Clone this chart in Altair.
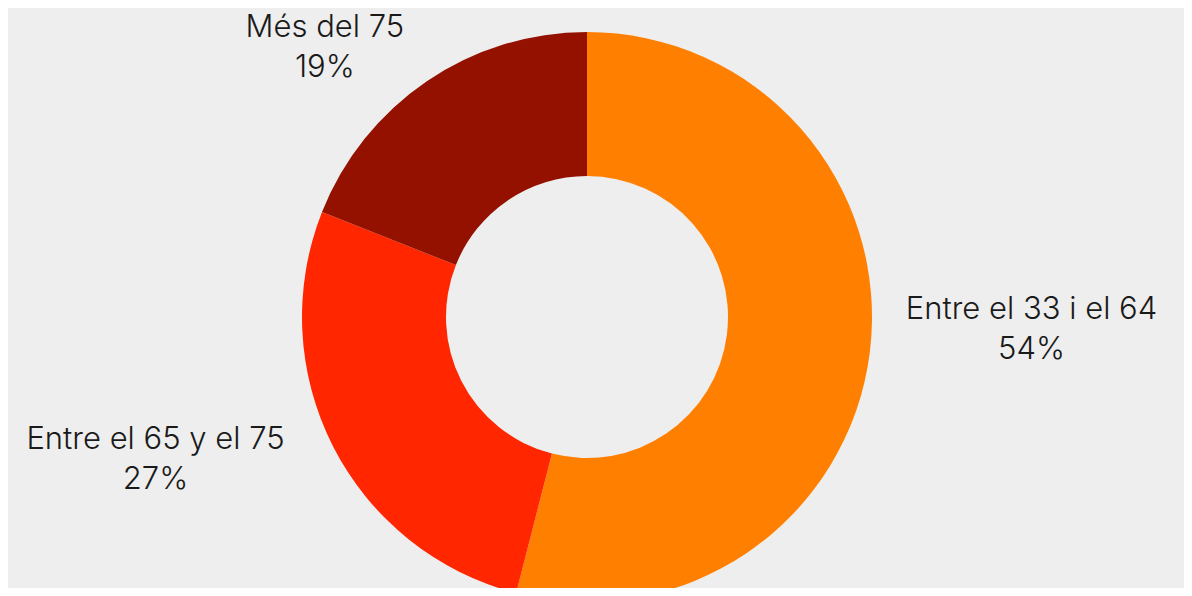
import altair as alt
import pandas as pd

categories = ["Entre el 33 i el 64", "Entre el 65 y el 75", "Més del 75"]
percents = [54, 27, 19]
colors = ["#FF7F00", "#FF2600", "#941100"]

df = pd.DataFrame({
    "cat": categories,
    "pct": percents,
    "idx": list(range(len(categories))),
})
df["label"] = df["cat"] + "\n" + df["pct"].astype(str) + "%"

CX, CY = 579, 309
TOTAL = sum(percents)

arcs = alt.Chart(df).mark_arc(outerRadius=285, innerRadius=141, stroke=None).encode(
    theta=alt.Theta("pct:Q", stack=True),
    order=alt.Order("idx:Q"),
    color=alt.Color("cat:N", scale=alt.Scale(domain=categories, range=colors), legend=None),
    x=alt.value(CX),
    y=alt.value(CY),
)

text_base = alt.Chart(df).transform_stack(
    stack="pct", groupby=[], as_=["s0", "s1"], sort=[alt.SortField("idx")]
).transform_calculate(mid="(datum.s0 + datum.s1) / 2")

offsets = {
    "Entre el 33 i el 64": (3, -63),
    "Entre el 65 y el 75": (-35, -79),
    "Més del 75": (-12, 79),
}

layers = [arcs]
for cat, (dx, dy) in offsets.items():
    layers.append(
        text_base.transform_filter(alt.datum.cat == cat).mark_text(
            radius=445, font="Inter", fontSize=31, fontWeight=300,
            color="#1a1a1a", lineBreak="\n", lineHeight=40,
            align="center", baseline="middle", dx=dx, dy=dy,
        ).encode(
            theta=alt.Theta("mid:Q", stack=None,
                            scale=alt.Scale(domain=[0, TOTAL], range=[0, 6.283185307179586])),
            text="label:N",
            x=alt.value(CX),
            y=alt.value(CY),
        )
    )

chart = alt.layer(*layers).properties(
    width=1176, height=580, padding=0, autosize="none", background="#eeeeee"
).configure_view(stroke=None)

chart.save("out.html", embed_options={"renderer": "svg", "actions": False})
